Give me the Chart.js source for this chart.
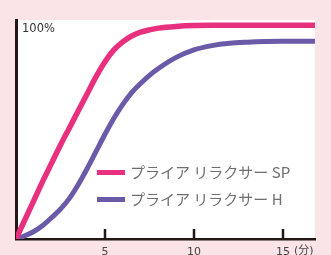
<!DOCTYPE html>
<html>
<head>
<meta charset="utf-8">
<script src="https://cdn.jsdelivr.net/npm/chart.js@4"></script>
<style>
  html, body { margin: 0; padding: 0; background: #fbe4e8; }
  #wrap { width: 331px; height: 255px; }
</style>
</head>
<body>
<div id="wrap"><canvas id="grafico"></canvas></div>
<script>
// dados (minutos / %)
const minutos = [0, 0.5, 1, 1.5, 2, 2.5, 3, 3.5, 4, 4.5, 5, 5.5, 6, 6.5, 7, 7.5, 8, 9, 10, 11, 12, 13, 14, 15, 16.8];
const valoresSP = [0, 9, 18, 27, 35.5, 44, 52, 60, 68, 76, 83, 88.5, 92.3, 95, 96.8, 97.9, 98.7, 99.5, 99.9, 100, 100, 100, 100, 100, 100];
const valoresH = [0, 1.5, 3.5, 6.3, 10, 14, 19, 25.5, 33, 41, 49, 56.5, 63, 68.5, 72.8, 76.6, 79.8, 85, 88.5, 90.5, 91.6, 92.1, 92.4, 92.5, 92.5];
const nomes = ["プライア リラクサー SP", "プライア リラクサー H"];
const ticksX = [5, 10, 15];
const ticksY = [100];
const unidadeX = "(分)";

const corSP = "#e8307f";
const corH = "#6b5aa8";
const corEixo = "#231815";

// fundo branco da area do grafico, marcas dos ticks, legenda
const pluginDesenho = {
  id: "desenho",
  beforeDraw: function (chart) {
    const a = chart.chartArea;
    const ctx = chart.ctx;
    ctx.save();
    ctx.fillStyle = "#ffffff";
    ctx.fillRect(a.left, a.top, a.right - a.left, a.bottom - a.top);
    ctx.restore();
  },
  afterDraw: function (chart) {
    const ctx = chart.ctx;
    const a = chart.chartArea;
    const x = chart.scales.x;
    ctx.save();
    // marcas dos ticks para dentro
    ctx.strokeStyle = corEixo;
    ctx.lineWidth = 2.5;
    ticksX.forEach(function (v) {
      const px = Math.round(x.getPixelForValue(v));
      ctx.beginPath();
      ctx.moveTo(px, a.bottom - 10);
      ctx.lineTo(px, a.bottom);
      ctx.stroke();
    });
    // unidade depois do 15
    ctx.font = "11px 'DejaVu Sans'";
    const w15 = ctx.measureText("15").width;
    ctx.fillStyle = "#444444";
    ctx.textBaseline = "top";
    ctx.textAlign = "left";
    ctx.font = "11px 'DejaVu Sans', 'Noto Sans CJK JP'";
    ctx.fillText(unidadeX, x.getPixelForValue(15) + w15 / 2 + 4, a.bottom + 7);

    // legenda
    chart.data.datasets.forEach(function (ds, i) {
      const y = 172.5 + i * 27;
      ctx.strokeStyle = ds.borderColor;
      ctx.lineWidth = 5;
      ctx.beginPath();
      ctx.moveTo(97, y);
      ctx.lineTo(125, y);
      ctx.stroke();
      ctx.fillStyle = "#6f6f6f";
      ctx.font = "15px 'Noto Sans CJK JP'";
      ctx.textBaseline = "middle";
      ctx.fillText(ds.label, 130, y);
    });
    ctx.restore();
  }
};

new Chart(document.getElementById("grafico"), {
  type: "line",
  data: {
    labels: minutos,
    datasets: [
      {
        label: nomes[0],
        data: minutos.map(function (m, i) { return { x: m, y: valoresSP[i] }; }),
        borderColor: corSP,
        backgroundColor: corSP,
        borderWidth: 5.5,
        pointRadius: 0,
        cubicInterpolationMode: "monotone",
      },
      {
        label: nomes[1],
        data: minutos.map(function (m, i) { return { x: m, y: valoresH[i] }; }),
        borderColor: corH,
        backgroundColor: corH,
        borderWidth: 5,
        pointRadius: 0,
        cubicInterpolationMode: "monotone",
      },
    ],
  },
  options: {
    responsive: true,
    maintainAspectRatio: false,
    animation: false,
    layout: { padding: { top: 20, right: 16, left: 0, bottom: 0 } },
    plugins: {
      legend: { display: false },
      tooltip: { enabled: false },
    },
    scales: {
      x: {
        type: "linear",
        min: 0,
        max: 16.8,
        afterBuildTicks: function (scale) {
          scale.ticks = ticksX.map(function (v) { return { value: v }; });
        },
        afterFit: function (scale) { scale.height = 16; },
        grid: { display: false, drawTicks: false },
        border: { display: true, width: 2.5, color: corEixo },
        ticks: {
          padding: 7,
          maxRotation: 0,
          color: "#444444",
          font: { family: "'DejaVu Sans'", size: 11 },
        },
      },
      y: {
        min: 0,
        max: 102.5,
        afterBuildTicks: function (scale) {
          scale.ticks = ticksY.map(function (v) { return { value: v }; });
        },
        afterFit: function (scale) { scale.width = 16; },
        grid: { display: false, drawTicks: false },
        border: { display: true, width: 3, color: corEixo },
        ticks: {
          mirror: true,
          padding: 6,
          labelOffset: 4,
          color: "#333333",
          font: { family: "'DejaVu Sans'", size: 11.5 },
          callback: function (v) { return v + "%"; },
        },
      },
    },
  },
  plugins: [pluginDesenho],
});
</script>
</body>
</html>
